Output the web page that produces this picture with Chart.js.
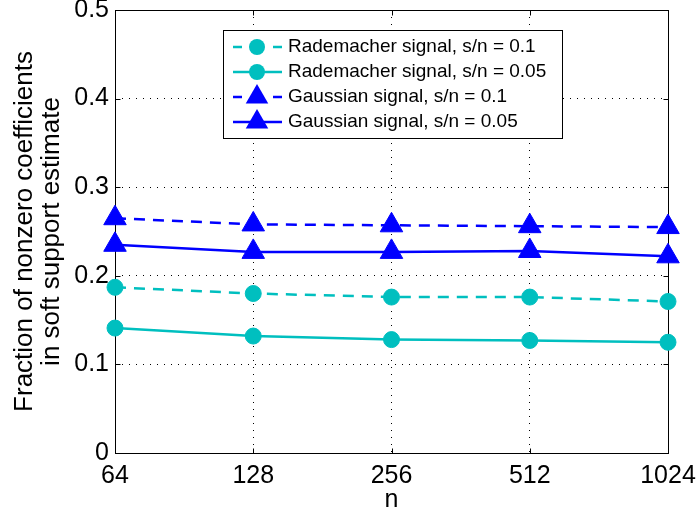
<!DOCTYPE html>
<html>
<head>
<meta charset="utf-8">
<script src="https://cdn.jsdelivr.net/npm/chart.js@4.4.0/dist/chart.umd.min.js"></script>
<style>
  html, body { margin: 0; padding: 0; background: #fff; }
  #wrap { width: 696px; height: 515px; }
</style>
</head>
<body>
<div id="wrap"><canvas id="chart" width="696" height="515"></canvas></div>
<script>
// values
const nValues = ['64', '128', '256', '512', '1024'];
const yTicks = [0, 0.1, 0.2, 0.3, 0.4, 0.5];
const rademacher01 = [0.187, 0.180, 0.176, 0.176, 0.171];
const rademacher005 = [0.141, 0.132, 0.128, 0.127, 0.125];
const gaussian01 = [0.265, 0.258, 0.257, 0.256, 0.255];
const gaussian005 = [0.235, 0.227, 0.227, 0.228, 0.222];
const seriesLabels = [
  'Rademacher signal, s/n = 0.1',
  'Rademacher signal, s/n = 0.05',
  'Gaussian signal, s/n = 0.1',
  'Gaussian signal, s/n = 0.05',
];

const FONT = '"Liberation Sans", Arial, sans-serif';
const CYAN = '#00BFBF';
const BLUE = '#0000FF';
const DASH = [11, 8];

function series(label, data, color, dashed, triangle) {
  return {
    label,
    data,
    borderColor: color,
    backgroundColor: color,
    borderWidth: 2.5,
    borderDash: dashed ? DASH : [],
    pointStyle: triangle ? 'triangle' : 'circle',
    pointRadius: triangle ? 13 : 8,
    pointBackgroundColor: color,
    pointBorderColor: color,
    pointBorderWidth: 1,
    tension: 0,
    fill: false,
    clip: false,
  };
}

// solid box + inward tick marks, MATLAB style
const framePlugin = {
  id: 'frame',
  beforeDatasetsDraw(chart) {
    const { ctx, chartArea: a, scales: { x, y } } = chart;
    const L = Math.round(a.left) + 0.5, R = Math.round(a.right) + 0.5;
    const T = Math.round(a.top) + 0.5, B = Math.round(a.bottom) + 0.5;
    ctx.save();
    ctx.strokeStyle = '#000';
    ctx.lineWidth = 1;
    ctx.strokeRect(L, T, R - L, B - T);
    ctx.beginPath();
    nValues.forEach((_, i) => {
      const px = Math.round(x.getPixelForValue(i)) + 0.5;
      ctx.moveTo(px, B); ctx.lineTo(px, B - 5);
      ctx.moveTo(px, T); ctx.lineTo(px, T + 5);
    });
    yTicks.forEach(v => {
      const py = Math.round(y.getPixelForValue(v)) + 0.5;
      ctx.moveTo(L, py); ctx.lineTo(L + 5, py);
      ctx.moveTo(R, py); ctx.lineTo(R - 5, py);
    });
    ctx.stroke();
    ctx.restore();
  }
};

// boxed legend inside the axes
const legendPlugin = {
  id: 'boxLegend',
  afterDraw(chart) {
    const ctx = chart.ctx;
    const bx = 223, by = 30, bw = 339, bh = 108;
    ctx.save();
    ctx.fillStyle = '#fff';
    ctx.fillRect(bx, by, bw, bh);
    ctx.strokeStyle = '#000';
    ctx.lineWidth = 1;
    ctx.strokeRect(bx + 0.5, by + 0.5, bw, bh);
    chart.data.datasets.forEach((ds, i) => {
      const cy = 47 + i * 25;
      const x0 = 233, x1 = 282, cx = 257;
      ctx.strokeStyle = ds.borderColor;
      ctx.lineWidth = ds.borderWidth;
      ctx.beginPath();
      if (ds.borderDash.length) {
        ctx.moveTo(x0, cy); ctx.lineTo(x0 + 9, cy);
        ctx.moveTo(x1 - 9, cy); ctx.lineTo(x1, cy);
      } else {
        ctx.moveTo(x0, cy); ctx.lineTo(x1, cy);
      }
      ctx.stroke();
      ctx.fillStyle = ds.pointBackgroundColor;
      ctx.beginPath();
      const r = ds.pointRadius;
      if (ds.pointStyle === 'triangle') {
        ctx.moveTo(cx, cy - r);
        ctx.lineTo(cx + r * Math.sqrt(3) / 2, cy + r / 2);
        ctx.lineTo(cx - r * Math.sqrt(3) / 2, cy + r / 2);
        ctx.closePath();
      } else {
        ctx.arc(cx, cy, r, 0, Math.PI * 2);
      }
      ctx.fill();
      ctx.fillStyle = '#000';
      ctx.font = '19px ' + FONT;
      ctx.textBaseline = 'middle';
      ctx.textAlign = 'left';
      ctx.fillText(ds.label, 288, cy);
    });
    ctx.restore();
  }
};

new Chart(document.getElementById('chart'), {
  type: 'line',
  data: {
    labels: nValues,
    datasets: [
      series(seriesLabels[0], rademacher01, CYAN, true, false),
      series(seriesLabels[1], rademacher005, CYAN, false, false),
      series(seriesLabels[2], gaussian01, BLUE, true, true),
      series(seriesLabels[3], gaussian005, BLUE, false, true),
    ],
  },
  options: {
    responsive: false,
    animation: false,
    events: [],
    layout: { autoPadding: false, padding: { top: 10, right: 28, left: 0, bottom: 0 } },
    plugins: { legend: { display: false }, tooltip: { enabled: false } },
    scales: {
      x: {
        type: 'category',
        offset: false,
        grid: { color: '#000', lineWidth: 1, drawTicks: false },
        border: { display: false, dash: [1, 6] },
        ticks: { color: '#000', padding: 8, maxRotation: 0, font: { family: FONT, size: 25 } },
        title: {
          display: true, text: 'n', color: '#000',
          padding: { top: 0, bottom: 0 },
          font: { family: FONT, size: 25 },
        },
        afterFit(scale) {
          scale.height = 62;
          scale.paddingLeft = 0;
          scale.paddingRight = 0;
        },
      },
      y: {
        min: 0,
        max: 0.5,
        grid: { color: '#000', lineWidth: 1, drawTicks: false },
        border: { display: false, dash: [1, 6] },
        ticks: {
          color: '#000', padding: 6, stepSize: 0.1,
          font: { family: FONT, size: 25, lineHeight: 0.6 },
          callback: v => (v === 0 ? '0' : v.toFixed(1)),
        },
        afterBuildTicks(scale) {
          scale.ticks = yTicks.map(v => ({ value: v }));
        },
        title: {
          display: true,
          text: ['Fraction of nonzero coefficients', 'in soft support estimate'],
          color: '#000',
          padding: { top: 11, bottom: 0 },
          font: { family: FONT, size: 26, lineHeight: 1.05 },
        },
        afterFit(scale) {
          scale.width = 115;
          scale.paddingTop = 0;
          scale.paddingBottom = 0;
        },
      },
    },
  },
  plugins: [framePlugin, legendPlugin],
});
</script>
</body>
</html>
